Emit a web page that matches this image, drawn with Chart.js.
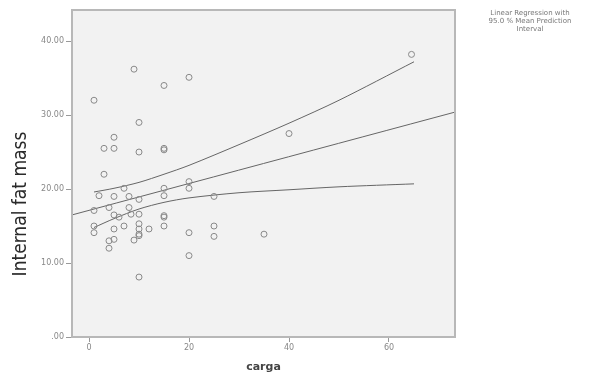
<!DOCTYPE html>
<html>
<head>
<meta charset="utf-8">
<script src="https://cdn.jsdelivr.net/npm/chart.js@4/dist/chart.umd.min.js"></script>
<style>
  body { margin: 0; background: #fff; }
  #wrap { position: relative; width: 600px; height: 378px; }
  #note {
    position: absolute; left: 462px; top: 9px; width: 136px;
    font: 7px "DejaVu Sans", sans-serif; color: #777; text-align: center; line-height: 8px;
  }
</style>
</head>
<body>
<div id="wrap">
  <canvas id="chart" width="600" height="378"></canvas>
  <div id="note">Linear Regression with<br>95.0 % Mean Prediction<br>Interval</div>
</div>
<script>
// scatter: carga vs internal fat mass
const cargaVals = [64.5, 9, 20, 15, 1, 10, 40, 5, 3, 5, 10, 15, 15, 3,
  7, 15, 20, 20, 2, 5, 8, 10, 15, 25, 1, 4, 8, 5, 6, 8.4, 10, 15, 15,
  1, 7, 10, 15, 25, 1, 5, 10, 12, 10, 20, 25, 35, 5, 4, 9, 10, 4, 20, 10];
const fatVals = [38.2, 36.2, 35.1, 34.0, 32.0, 29.0, 27.5, 27.0, 25.5, 25.5, 25.0, 25.5, 25.3, 22.0,
  20.1, 20.1, 21.0, 20.1, 19.1, 19.0, 19.0, 18.6, 19.1, 19.0, 17.1, 17.5, 17.5, 16.5, 16.2, 16.6, 16.6, 16.2, 16.4,
  15.0, 15.0, 15.3, 15.0, 15.0, 14.1, 14.6, 14.6, 14.6, 13.9, 14.1, 13.6, 13.9, 13.2, 13.0, 13.1, 13.7, 12.0, 11.0, 8.1];

// fit line and confidence band
const fitX = [-3.4, 73.2];
const fitY = [16.5, 30.4];
const bandX = [1, 5, 10, 15, 20, 30, 40, 50, 65];
const upperY = [19.6, 20.1, 20.9, 22.0, 23.2, 26.0, 28.9, 32.0, 37.2];
const lowerY = [14.8, 16.0, 17.3, 18.2, 18.8, 19.5, 19.9, 20.3, 20.7];

const xTicks = [0, 20, 40, 60];
const yTicks = [0, 10, 20, 30, 40];

function pts(xs, ys) {
  return xs.map((x, i) => ({ x: x, y: ys[i] }));
}

const plotFrame = {
  id: 'plotFrame',
  beforeDraw(chart) {
    const { ctx, chartArea: a } = chart;
    ctx.save();
    ctx.fillStyle = '#f2f2f2';
    ctx.fillRect(a.left, a.top, a.right - a.left, a.bottom - a.top);
    ctx.restore();
  },
  afterDraw(chart) {
    const { ctx, chartArea: a } = chart;
    ctx.save();
    ctx.strokeStyle = '#b8b8b8';
    ctx.lineWidth = 2;
    ctx.strokeRect(a.left, a.top, a.right - a.left, a.bottom - a.top);
    // y title sits a bit below centre, as in the SPSS output
    ctx.translate(21, 204);
    ctx.rotate(-Math.PI / 2);
    ctx.fillStyle = '#2a2a2a';
    ctx.font = '19px "DejaVu Sans Condensed", "Liberation Sans", sans-serif';
    ctx.textAlign = 'center';
    ctx.textBaseline = 'middle';
    ctx.fillText('Internal fat mass', 0, 0);
    ctx.restore();
  }
};

const lineStyle = { borderColor: '#666', borderWidth: 1, pointRadius: 0, showLine: true, fill: false, tension: 0.3 };

new Chart(document.getElementById('chart'), {
  type: 'scatter',
  data: {
    datasets: [
      { data: pts(cargaVals, fatVals), pointRadius: 3, pointBorderWidth: 1,
        pointBorderColor: '#8a8a8a', pointBackgroundColor: 'rgba(0,0,0,0)' },
      Object.assign({ data: pts(fitX, fitY) }, lineStyle),
      Object.assign({ data: pts(bandX, upperY) }, lineStyle),
      Object.assign({ data: pts(bandX, lowerY) }, lineStyle)
    ]
  },
  options: {
    responsive: false,
    devicePixelRatio: 1,
    animation: false,
    layout: { padding: { top: 10, right: 145, left: 0, bottom: 0 } },
    plugins: { legend: { display: false }, tooltip: { enabled: false } },
    scales: {
      x: {
        type: 'linear', min: -3.4, max: 73.2,
        afterBuildTicks: s => { s.ticks = xTicks.map(v => ({ value: v })); },
        afterFit: s => { s.height = 41; },
        grid: { drawOnChartArea: false, drawTicks: true, tickLength: 5, color: '#999' },
        border: { display: false },
        ticks: { color: '#888', font: { size: 8, family: 'DejaVu Sans' }, padding: 1, maxRotation: 0 },
        title: { display: true, text: 'carga', color: '#444',
          font: { size: 11, weight: 'bold', family: 'DejaVu Sans' }, padding: { top: 4 } }
      },
      y: {
        type: 'linear', min: 0, max: 44.2,
        afterBuildTicks: s => { s.ticks = yTicks.map(v => ({ value: v })); },
        afterFit: s => { s.width = 72; },
        grid: { drawOnChartArea: false, drawTicks: true, tickLength: 6, color: '#999' },
        border: { display: false },
        ticks: { color: '#888', font: { size: 8, family: 'DejaVu Sans' }, padding: 2,
          callback: v => v === 0 ? '.00' : v.toFixed(2) }
      }
    }
  },
  plugins: [plotFrame]
});
</script>
</body>
</html>
